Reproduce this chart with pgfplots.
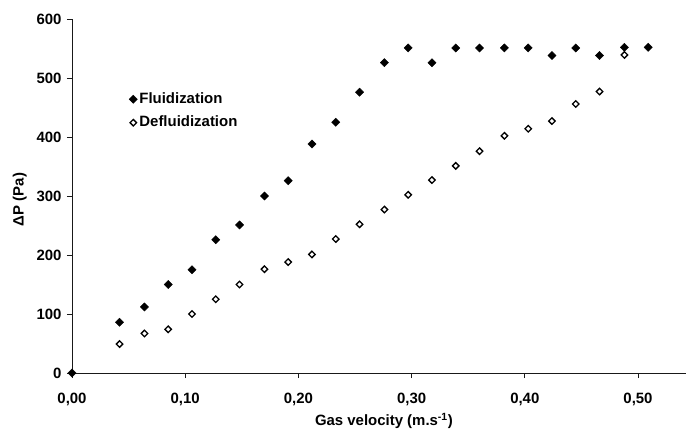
\documentclass[border=0pt]{standalone}
\usepackage{pgfplots}
\pgfplotsset{compat=1.18}
\usepackage{fontspec}
\setmainfont{Liberation Sans}
\begin{document}
\begin{tikzpicture}
\begin{axis}[
  scale only axis, width=614bp, height=354bp,
  xmin=0, xmax=0.5424, ymin=0, ymax=600,
  axis x line=bottom, axis y line=left,
  axis line style={-, line width=0.8pt, black!90},
  tick style={line width=0.8pt, black!90},
  tick align=outside, major tick length=5bp,
  xtick={0,0.1,0.2,0.3,0.4,0.5},
  ytick={0,100,200,300,400,500,600},
  scaled x ticks=false,
  x tick label style={/pgf/number format/fixed, /pgf/number format/fixed zerofill, /pgf/number format/precision=2, /pgf/number format/use comma, /pgf/number format/assume math mode=true, yshift=-12bp},
  y tick label style={/pgf/number format/assume math mode=true, xshift=-2bp},
  ticklabel style={font=\fontsize{15}{18}\selectfont\bfseries},
  label style={font=\fontsize{15}{18}\selectfont\bfseries},
  xlabel={Gas velocity (m.s\textsuperscript{-1})},
  ylabel={ΔP (Pa)},
  xlabel style={at={(axis description cs:0.508,-0.135)}, anchor=center},
  ylabel style={at={(axis description cs:-0.085,0.49)}, anchor=center},
  clip=false,
  legend style={draw=none, fill=none, at={(axis description cs:0.088,0.805)}, anchor=north west,
    font=\fontsize{15}{18}\selectfont\bfseries, row sep=5.5bp,
    nodes={inner sep=2bp, text height=11bp, text depth=3bp}},
  legend cell align=left,
  legend image code/.code={\draw[mark repeat=2,mark phase=2,#1] plot coordinates {(0bp,0bp) (5bp,0bp) (10bp,0bp)};},
]
\addplot[only marks, mark=square*, mark size=2.9bp, mark options={rotate=45, fill=black, draw=black}]
coordinates {
(0,0) (0.042,86) (0.064,112) (0.085,150) (0.106,175) (0.127,226) (0.148,251)
(0.170,300) (0.191,326) (0.212,388) (0.233,425) (0.254,476) (0.276,526)
(0.297,551) (0.318,526) (0.339,551) (0.360,551) (0.382,551) (0.403,551)
(0.424,538) (0.445,551) (0.466,538) (0.488,552) (0.509,552)
};
\addlegendentry{Fluidization}
\addplot[only marks, mark=square*, mark size=2.3bp, mark options={rotate=45, fill=white, draw=black, line width=1.3bp}]
coordinates {
(0.042,49) (0.064,67) (0.085,74) (0.106,100) (0.127,125) (0.148,150)
(0.170,176) (0.191,188) (0.212,201) (0.233,227) (0.254,252) (0.276,277)
(0.297,302) (0.318,327) (0.339,351) (0.360,376) (0.382,402) (0.403,414)
(0.424,427) (0.445,456) (0.466,477) (0.488,539)
};
\addlegendentry{Defluidization}
\end{axis}
\pgfresetboundingbox
\useasboundingbox (-72bp,-62bp) rectangle (614bp,373bp);
\end{tikzpicture}
\end{document}
